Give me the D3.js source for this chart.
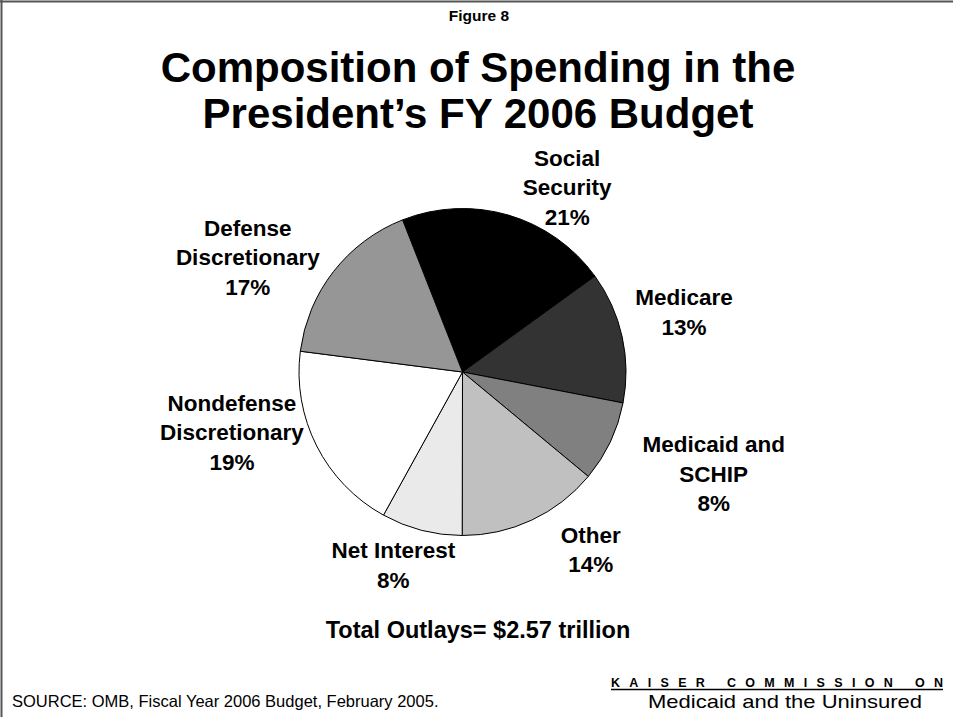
<!DOCTYPE html>
<html>
<head>
<meta charset="utf-8">
<script src="https://cdn.jsdelivr.net/npm/d3@7"></script>
<style>
  html, body { margin: 0; padding: 0; background: #fff; }
  svg { display: block; }
  text { font-family: "Liberation Sans", Arial, Helvetica, sans-serif; fill: #000; }
</style>
</head>
<body>
<svg id="chart" width="953" height="717"></svg>
<script>
// Spending categories, clockwise from the Social Security slice
const categories = [
  "Social Security", "Medicare", "Medicaid and SCHIP", "Other",
  "Net Interest", "Nondefense Discretionary", "Defense Discretionary"
];
// Share of total outlays, percent
const shares = [21, 13, 8, 14, 8, 19, 17];
// Label text broken into lines (the percentage line is appended)
const labelLines = [
  ["Social", "Security"], ["Medicare"], ["Medicaid and", "SCHIP"], ["Other"],
  ["Net Interest"], ["Nondefense", "Discretionary"], ["Defense", "Discretionary"]
];
const totalNote = "Total Outlays= $2.57 trillion";

// Styling
const fills = ["#000000", "#333333", "#808080", "#c0c0c0", "#eaeaea", "#ffffff", "#969696"];
// Hand placement of each label relative to its point on the label ring
const labelNudge = [[45, 27], [14, -6], [59, 19], [38, -7], [-16, -5], [-41, -28], [-47, 24]];

const svg = d3.select("#chart");
const W = 953, H = 717;

// Slide frame (top and left edges)
svg.append("line").attr("x1", 0).attr("x2", W).attr("y1", 1.5).attr("y2", 1.5)
  .attr("stroke", "#555").attr("stroke-width", 2);
svg.append("line").attr("x1", 1.5).attr("x2", 1.5).attr("y1", 0).attr("y2", H)
  .attr("stroke", "#555").attr("stroke-width", 2);

// Headings
svg.append("text").attr("x", 479).attr("y", 21).attr("text-anchor", "middle")
  .attr("font-size", 15.5).attr("font-weight", "bold").text("Figure 8");
const titleLines = ["Composition of Spending in the", "President\u2019s FY 2006 Budget"];
svg.append("g").selectAll("text").data(titleLines).join("text")
  .attr("x", 478).attr("y", (d, i) => 82 + i * 46)
  .attr("text-anchor", "middle").attr("font-size", 42).attr("font-weight", "bold")
  .text(d => d);

// Pie
const cx = 462.5, cy = 372, R = 163.5;
const start = -21.5 * Math.PI / 180;
const pie = d3.pie().sort(null).value(d => d).startAngle(start).endAngle(start + 2 * Math.PI);
const arcs = pie(shares);
const arc = d3.arc().innerRadius(0).outerRadius(R);
const labelArc = d3.arc().innerRadius(R * 1.3).outerRadius(R * 1.3);

const g = svg.append("g").attr("transform", `translate(${cx},${cy})`);
g.selectAll("path").data(arcs).join("path")
  .attr("d", arc)
  .attr("fill", (d, i) => fills[i])
  .attr("stroke", "#000").attr("stroke-width", 1).attr("stroke-linejoin", "round");

// Slice labels
const lh = 29.5;
g.selectAll("text.slice").data(arcs).join("text")
  .attr("class", "slice")
  .attr("text-anchor", "middle").attr("font-size", 22.5).attr("font-weight", "bold")
  .each(function (d, i) {
    const [px, py] = labelArc.centroid(d);
    const x = px + labelNudge[i][0], y = py + labelNudge[i][1];
    const lines = labelLines[i].concat([shares[i] + "%"]);
    const n = lines.length;
    d3.select(this).selectAll("tspan").data(lines).join("tspan")
      .attr("x", x).attr("y", (t, k) => y + (k - (n - 1) / 2) * lh)
      .text(t => t);
  });

// Total note
svg.append("text").attr("x", 478).attr("y", 638).attr("text-anchor", "middle")
  .attr("font-size", 23.5).attr("font-weight", "bold").text(totalNote);

// Source line
svg.append("text").attr("x", 12).attr("y", 707)
  .attr("font-size", 16.5).text("SOURCE: OMB, Fiscal Year 2006 Budget, February 2005.");

// Organisation mark
const orgLeft = 611, orgRight = 943;
const org = svg.append("g");
org.append("text").attr("x", orgLeft).attr("y", 686.5)
  .attr("font-size", 12.5).attr("font-weight", "bold")
  .attr("textLength", orgRight - orgLeft).attr("lengthAdjust", "spacing")
  .text("KAISER COMMISSION ON");
org.append("line").attr("x1", orgLeft).attr("x2", orgRight).attr("y1", 689.5).attr("y2", 689.5)
  .attr("stroke", "#000").attr("stroke-width", 1.5);
org.append("text").attr("x", 648).attr("y", 708)
  .attr("font-size", 19).attr("textLength", 274).attr("lengthAdjust", "spacingAndGlyphs")
  .text("Medicaid and the Uninsured");
</script>
</body>
</html>
